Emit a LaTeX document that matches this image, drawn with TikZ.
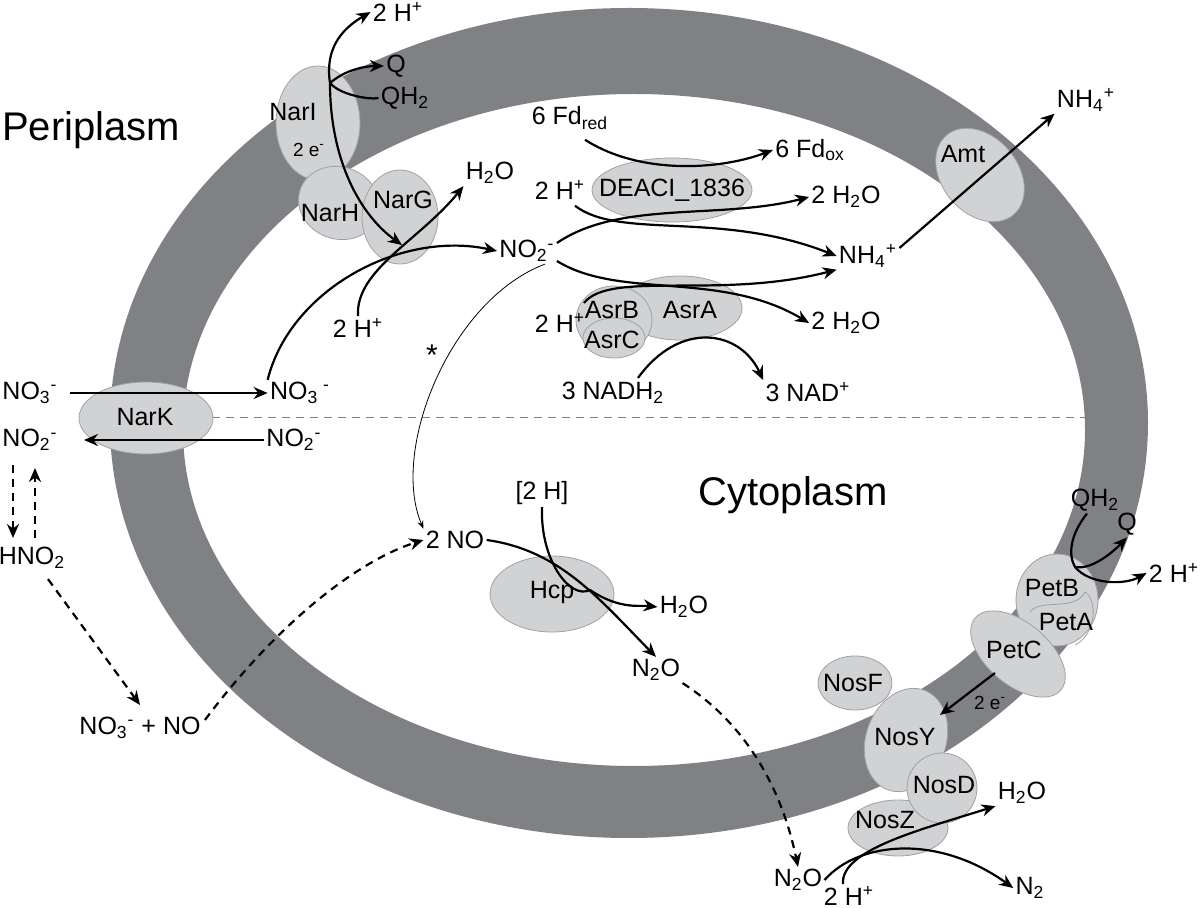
\documentclass[tikz,border=0pt]{standalone}
\usepackage{fontspec}
\setmainfont{Liberation Sans}
\usetikzlibrary{arrows.meta}
\newcommand\sbx[1]{\textsubscript{#1}}
\newcommand\spx[1]{\textsuperscript{#1}}
\definecolor{ring}{HTML}{808184}
\definecolor{prot}{HTML}{D1D2D4}
\definecolor{protb}{HTML}{A0A1A4}
\begin{document}
\begin{tikzpicture}[x=0.5pt,y=-0.5pt,
  lab/.style={inner sep=1pt,font=\fontsize{12.5}{14}\selectfont},
  pr/.style={draw=protb,line width=0.4pt,fill=prot,inner sep=0pt},
  ar/.style={line width=1.1pt,-{Stealth[length=7pt,width=6pt]}},
  ln/.style={line width=1.1pt},
  da/.style={line width=1.1pt,dash pattern=on 4pt off 3pt,-{Stealth[length=7pt,width=6pt]}}]
\useasboundingbox (0,0) rectangle (1200,908);
% membrane ring
\fill[ring,even odd rule] (629,423) ellipse [x radius=519,y radius=415] (634,430) ellipse [x radius=451,y radius=336];
\draw[gray,line width=0.5pt,dash pattern=on 4pt off 3pt] (212,418) -- (1085,418);
\node[lab,font=\fontsize{20}{22}\selectfont] (peri) at (91,130) {Periplasm};
\node[lab,font=\fontsize{20}{22}\selectfont] (cyto) at (793,495) {Cytoplasm};
% proteins
\path[pr] (318,123) ellipse [x radius=42,y radius=57];
\path[pr,rotate around={-20:(339,203)}] (339,203) ellipse [x radius=41,y radius=36];
\path[pr] (400,217) ellipse [x radius=38,y radius=47];
\node[lab] (narI) at (293,112) {NarI};
\node[lab,font=\fontsize{9.5}{10}\selectfont] (e1) at (309,150) {2 e\spx{-}};
\node[lab] (narH) at (330,213) {NarH};
\node[lab] (narG) at (403,200) {NarG};
\path[pr] (146,418) ellipse [x radius=67,y radius=36];
\node[lab] (narK) at (145,417) {NarK};
\path[pr] (672,190) ellipse [x radius=80,y radius=32];
\node[lab] (deaci) at (672,190) {DEACI\_1836};
\path[pr] (680,308) ellipse [x radius=62,y radius=32];
\path[pr] (614,320) ellipse [x radius=38,y radius=34];
\path[pr] (614,338) ellipse [x radius=31,y radius=20];
\node[lab] (asrB) at (612,310) {AsrB};
\node[lab] (asrA) at (690,310) {AsrA};
\node[lab] (asrC) at (612,340) {AsrC};
\path[pr,rotate around={40:(980,175)}] (980,175) ellipse [x radius=38,y radius=52];
\node[lab] (amt) at (963,154) {Amt};
\path[pr] (552,594) ellipse [x radius=62,y radius=38];
\node[lab] (hcp) at (552,592) {Hcp};
\path[pr] (1057,600) ellipse [x radius=41,y radius=46];
\draw[protb,line width=0.4pt] (1030,612) .. controls (1040,598) and (1075,612) .. (1085,592) .. controls (1098,600) and (1096,635) .. (1075,645);
\path[pr] plot[domain=0:360,samples=73,smooth cycle] ({1018+56*cos(\x)*cos(40)-31*sin(\x)*sin(40)},{654+56*cos(\x)*sin(40)+31*sin(\x)*cos(40)});
\node[lab] (petB) at (1052,588) {PetB};
\node[lab] (petA) at (1066,622) {PetA};
\node[lab] (petC) at (1014,650) {PetC};
\path[pr] (855,683) ellipse [x radius=37,y radius=27];
\node[lab] (nosF) at (853,683) {NosF};
\path[pr,rotate around={-20:(906,740)}] (906,740) ellipse [x radius=40,y radius=53];
\node[lab] (nosY) at (905,737) {NosY};
\path[pr] (898,828) ellipse [x radius=50,y radius=28];
\path[pr] (942,788) circle [radius=35];
\node[lab] (nosD) at (944,785) {NosD};
\node[lab] (nosZ) at (885,820) {NosZ};
% labels
\node[lab] (h2top) at (398,12) {2 H\spx{+}};
\node[lab] (q1) at (396,66) {Q};
\node[lab] (qh1) at (405,98) {QH\sbx{2}};
\node[lab] (h2o1) at (490,173) {H\sbx{2}O};
\node[lab] (no2c) at (527,251) {NO\sbx{2}\spx{-}};
\node[lab] (hp1) at (358,328) {2 H\spx{+}};
\node[lab] (no3i) at (300,393) {NO\sbx{3}\spx{ -}};
\node[lab] (no2i) at (294,440) {NO\sbx{2}\spx{-}};
\node[lab] (no3o) at (30,393) {NO\sbx{3}\spx{-}};
\node[lab] (no2o) at (30,440) {NO\sbx{2}\spx{-}};
\node[lab] (hno2) at (32,558) {HNO\sbx{2}};
\node[lab] (no3no) at (140,728) {NO\sbx{3}\spx{-} + NO};
\node[lab] (no) at (455,540) {2 NO};
\node[lab,font=\fontsize{15}{15}\selectfont] (star) at (432,355) {*};
\node[lab] (fdr) at (570,118) {6 Fd\sbx{red}};
\node[lab] (fdo) at (810,150) {6 Fd\sbx{ox}};
\node[lab] (hp2) at (560,190) {2 H\spx{+}};
\node[lab] (w2a) at (846,197) {2 H\sbx{2}O};
\node[lab] (nh4) at (868,256) {NH\sbx{4}\spx{+}};
\node[lab] (hp3) at (560,323) {2 H\spx{+}};
\node[lab] (w2b) at (846,323) {2 H\sbx{2}O};
\node[lab] (nadh) at (613,393) {3 NADH\sbx{2}};
\node[lab] (nad) at (808,392) {3 NAD\spx{+}};
\node[lab] (nh4o) at (1086,100) {NH\sbx{4}\spx{+}};
\node[lab] (h2) at (542,493) {[2 H]};
\node[lab] (h2o2) at (684,607) {H\sbx{2}O};
\node[lab] (n2o1) at (656,670) {N\sbx{2}O};
\node[lab] (n2o2) at (798,880) {N\sbx{2}O};
\node[lab] (hp4) at (849,896) {2 H\spx{+}};
\node[lab] (h2o3) at (1022,793) {H\sbx{2}O};
\node[lab] (n2) at (1030,888) {N\sbx{2}};
\node[lab] (qh2) at (1095,500) {QH\sbx{2}};
\node[lab] (q2) at (1127,524) {Q};
\node[lab] (hp5) at (1174,573) {2 H\spx{+}};
\node[lab,font=\fontsize{9.5}{10}\selectfont] (e2) at (990,703) {2 e\spx{-}};
\coordinate (j1) at (330,83);
\coordinate (j2) at (402,245);
\coordinate (j5) at (1075,567);
\coordinate (s3) at (584,303);
% NarGHI
\draw[ar] (j1) .. controls (325,50) and (340,30) .. (h2top.west);
\draw[ar] (j1) .. controls (345,70) and (365,66) .. (q1.west);
\draw[ln] (qh1.west) .. controls (370,100) and (340,95) .. (j1);
\draw[ar] (j1) .. controls (330,160) and (360,215) .. (j2);
\draw[ar] (no3i.north west) .. controls (290,290) and (400,230) .. (no2c.west);
\draw[ar] (hp1.north) .. controls (355,270) and (420,240) .. (h2o1.south west);
% NarK
\draw[ar] (no3o.east) ++(10,0) -- (no3i.west);
\draw[ar] (no2i.west) -- ([xshift=12pt]no2o.east);
\draw[da] (13,465) -- (13,538);
\draw[da] (35,538) -- (35,468);
\draw[da] (hno2.south) ++(16,8) -- (140,705);
\draw[da] (no3no.east) ++(2,-8) .. controls (280,620) and (360,560) .. (no.west);
\draw[line width=0.4pt,-{Stealth[length=4pt,width=3pt]}] (no2c.south) ++(18,0) .. controls (450,300) and (390,450) .. (no.north west);
% Fd
\draw[ar] (fdr.south) ++(15,8) .. controls (640,175) and (720,170) .. (fdo.west);
\draw[ar] (hp2.south) ++(15,4) .. controls (620,240) and (720,210) .. (nh4.west);
\draw[ar] (no2c.east) ++(0,-8) .. controls (620,200) and (720,220) .. (w2a.west);
\draw[ar] (no2c.east) ++(0,10) .. controls (620,300) and (720,270) .. (w2b.west);
\draw[ar] (s3) .. controls (610,270) and (720,300) .. (nh4.south west);
\draw[ar] (nadh.north) ++(25,-2) .. controls (680,320) and (740,330) .. (nad.north west);
\draw[ar] (nh4.east) ++(0,-8) -- (nh4o.south west);
% Hcp
\draw[ar] (no.east) .. controls (560,550) and (600,600) .. (n2o1.north);
\draw[ar] (h2.south) .. controls (540,560) and (570,600) .. (590,590) .. controls (620,610) and (640,605) .. (h2o2.west);
\draw[da] (n2o1.south east) .. controls (740,720) and (780,780) .. (n2o2.north);
% Nos
\draw[ar] (n2o2.east) .. controls (860,840) and (940,835) .. (n2.west);
\draw[ar] (hp4.north) ++(-6,0) .. controls (840,850) and (920,830) .. (h2o3.south west);
\draw[line width=1.1pt,-{Stealth[length=7pt,width=6pt]}] (995,673) -- (940,715);
% Pet
\draw[ln] (qh2.south) ++(-8,0) .. controls (1070,535) and (1068,555) .. (j5);
\draw[ar] (j5) .. controls (1090,570) and (1110,555) .. (q2.south);
\draw[ar] (j5) .. controls (1090,585) and (1125,585) .. (hp5.west);
\end{tikzpicture}
\end{document}
